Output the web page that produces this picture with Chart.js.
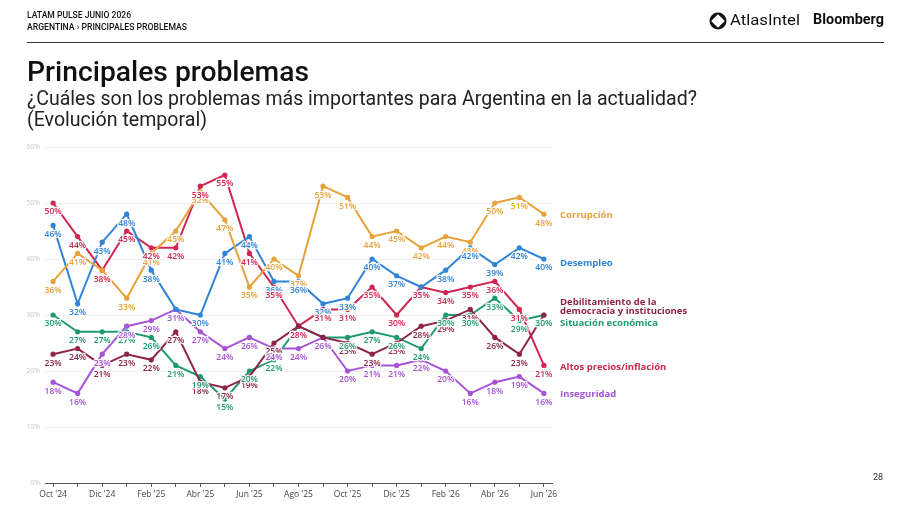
<!DOCTYPE html>
<html><head><meta charset="utf-8">
<script src="https://cdn.jsdelivr.net/npm/chart.js@4.4.1/dist/chart.umd.min.js"></script>
<style>
html,body{margin:0;padding:0;background:#fff;}
body{width:900px;height:505px;position:relative;overflow:hidden;font-family:Roboto, sans-serif;}
#c{position:absolute;left:0;top:0;}
.t{position:absolute;white-space:nowrap;transform-origin:0 0;color:#111;line-height:1;}
#rule{position:absolute;left:27px;top:42px;width:857px;height:1px;background:#333;}
</style></head><body>
<canvas id="c" width="900" height="505"></canvas>
<div class="t fit" data-w="104" style="left:27px;top:11px;font-size:9px;font-weight:500;">LATAM PULSE JUNIO 2026</div>
<div class="t fit" data-w="160" style="left:27px;top:23px;font-size:9px;font-weight:500;">ARGENTINA › PRINCIPALES PROBLEMAS</div>
<svg style="position:absolute;left:709px;top:12px;" width="18" height="18" viewBox="0 0 18 18">
  <circle cx="9" cy="9" r="8.5" fill="#111"/>
  <path d="M9 3.2 L14.8 9 L9 14.8 L3.2 9 Z" fill="#fff" stroke="#fff" stroke-width="1.5" stroke-linejoin="round"/>
</svg>
<div class="t fit" data-w="70" style="left:730px;top:13px;font-size:15px;font-weight:400;">AtlasIntel</div>
<div class="t fit" data-w="71" style="left:813px;top:12px;font-size:15px;font-weight:700;">Bloomberg</div>
<div id="rule"></div>
<div class="t fit" data-w="282" style="left:27px;top:58px;font-size:28px;font-weight:500;">Principales problemas</div>
<div class="t fit" data-w="670" style="left:27px;top:88px;font-size:20px;font-weight:400;color:#222;">¿Cuáles son los problemas más importantes para Argentina en la actualidad?</div>
<div class="t fit" data-w="180" style="left:27px;top:109px;font-size:20px;font-weight:400;color:#222;">(Evolución temporal)</div>
<div class="t" style="left:873px;top:473px;font-size:9px;color:#333;">28</div>
<script>
// ---- DATA ----
const months = ["Oct '24","Nov '24","Dic '24","Ene '25","Feb '25","Mar '25","Abr '25","May '25","Jun '25","Jul '25","Ago '25","Sep '25","Oct '25","Nov '25","Dic '25","Ene '26","Feb '26","Mar '26","Abr '26","May '26","Jun '26"];
const seriesNames = ["Corrupción","Desempleo","Debilitamiento de la democracia y instituciones","Situación económica","Altos precios/inflación","Inseguridad"];
const corrupcion    = [36,41,38,33,41,45,52,47,35,40,37,53,51,44,45,42,44,43,50,51,48];
const desempleo     = [46,32,43,48,38,31,30,41,44,36,36,32,33,40,37,35,38,42,39,42,40];
const debilitamiento= [23,24,21,23,22,27,18,17,19,25,28,26,25,23,25,28,29,31,26,23,30];
const situacion     = [30,27,27,27,26,21,19,15,20,22,28,26,26,27,26,24,30,30,33,29,30];
const inflacion     = [50,44,38,45,42,42,53,55,41,35,28,31,31,35,30,35,34,35,36,31,21];
const inseguridad   = [18,16,23,28,29,31,27,24,26,24,24,26,20,21,21,22,20,16,18,19,16];
const yTicks = [0,10,20,30,40,50,60];

// ---- STYLE ----
const colors = ["#E8A23A","#2F84D8","#8E2446","#1E9A70","#D0264F","#A653D9"];
const nameLines = [["Corrupción"],["Desempleo"],["Debilitamiento de la","democracia y instituciones"],["Situación económica"],["Altos precios/inflación"],["Inseguridad"]];
const nameNudge = [1,4,-13,8,2,1];
const allSeries = [corrupcion,desempleo,debilitamiento,situacion,inflacion,inseguridad];

const pointLabels = {
  id:'pointLabels',
  afterDatasetsDraw(chart){
    const ctx = chart.ctx;
    ctx.save();
    ctx.font = "600 8.5px 'Open Sans'";
    ctx.textAlign='center'; ctx.textBaseline='middle';
    ctx.lineJoin='round';
    chart.data.datasets.forEach((ds,di)=>{
      const meta = chart.getDatasetMeta(di);
      meta.data.forEach((pt,i)=>{
        const txt = ds.data[i].y + '%';
        ctx.strokeStyle='rgba(255,255,255,0.9)'; ctx.lineWidth=2.5;
        ctx.strokeText(txt, pt.x, pt.y+9);
        ctx.fillStyle = ds.borderColor;
        ctx.fillText(txt, pt.x, pt.y+9);
      });
    });
    // series names
    ctx.font = "700 9.5px 'Open Sans'";
    ctx.textAlign='left';
    const ys = chart.scales.y, area = chart.chartArea;
    chart.data.datasets.forEach((ds,di)=>{
      const last = ds.data[ds.data.length-1].y;
      const y0 = ys.getPixelForValue(last) + nameNudge[di];
      ctx.fillStyle = ds.borderColor;
      nameLines[di].forEach((ln,k)=>ctx.fillText(ln, area.right+8, y0 + k*9));
    });
    ctx.restore();
  }
};

new Chart(document.getElementById('c'), {
  type:'line',
  data:{
    datasets: allSeries.map((arr,k)=>({
      label: seriesNames[k],
      data: arr.map((v,i)=>({x:i,y:v})),
      borderColor: colors[k], backgroundColor: colors[k],
      borderWidth: 2, pointRadius: 2.6, pointBorderWidth:0, tension:0
    }))
  },
  options:{
    responsive:false, animation:false,
    layout:{padding:{left:0,right:348,top:147,bottom:0}},
    plugins:{legend:{display:false},tooltip:{enabled:false}},
    scales:{
      x:{type:'linear', min:-0.33, max:20.33,
        afterBuildTicks:(s)=>{ s.ticks = months.map((_,i)=>({value:i})); },
        afterFit:(s)=>{ s.height = 22; },
        ticks:{ autoSkip:false, maxRotation:0, padding:2, color:'#444',
          font:{family:'Open Sans', size:8.5},
          callback:(v)=> (v%2===0 ? months[v].replace(/ '/," '").replace(/(\w+) '(\d+)/,(m,a,b)=>a+" '"+b).replace("Ene","Ene").split(" ")[0]+" '"+months[v].split("'")[1] : '') },
        grid:{drawOnChartArea:false, drawTicks:true, tickLength:4, color:'#555'},
        border:{display:true, color:'#555', width:1}
      },
      y:{min:0,max:60,
        afterBuildTicks:(s)=>{ s.ticks = yTicks.map(v=>({value:v})); },
        afterFit:(s)=>{ s.width = 45; },
        ticks:{ color:'#c9c9c9', font:{family:'Open Sans', size:7}, padding:5, callback:(v)=>v+'%'},
        grid:{color:'#efefef', drawTicks:false},
        border:{display:false}
      }
    }
  },
  plugins:[pointLabels]
});

function fitAll(){
  document.querySelectorAll('.fit').forEach(el=>{
    el.style.transform='none';
    const w = el.getBoundingClientRect().width;
    el.style.transform = 'scaleX(' + (+el.dataset.w / w) + ')';
  });
}
fitAll();
if (document.fonts && document.fonts.ready) document.fonts.ready.then(fitAll);
</script>
</body></html>
